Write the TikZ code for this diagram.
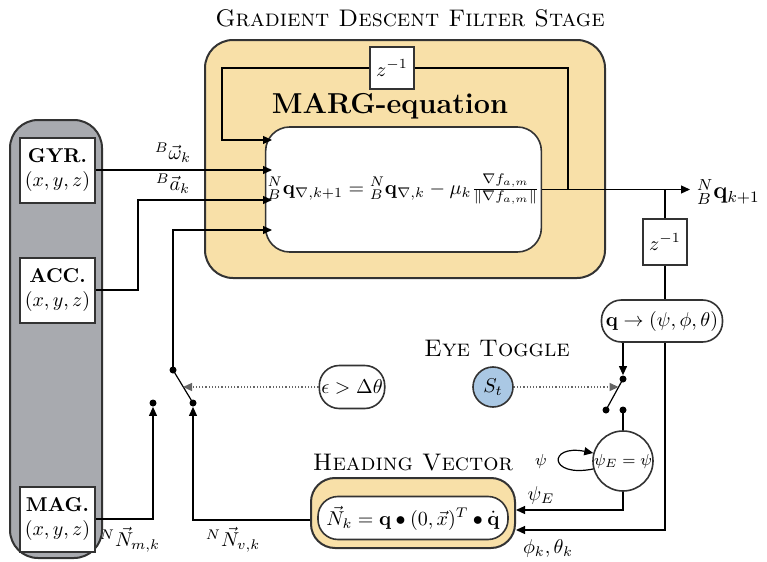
\documentclass[tikz,border=0pt]{standalone}
\usepackage{amsmath,amssymb}
\usetikzlibrary{arrows.meta, positioning, calc}

\definecolor{stagefill}{RGB}{248,224,168}
\definecolor{panelgray}{RGB}{168,170,175}
\definecolor{togglefill}{RGB}{170,200,228}

\begin{document}
\begin{tikzpicture}[
    x=0.5pt, y=-0.5pt,
    stage/.style={draw=black!80, line width=1pt, fill=stagefill, rounded corners=14pt},
    panel/.style={draw=black!80, line width=1pt, fill=panelgray, rounded corners=14pt},
    sensor/.style={draw=black!80, line width=1pt, fill=white, minimum width=37.5pt, minimum height=32.5pt, align=center, inner sep=1pt},
    delay/.style={draw=black!80, line width=0.8pt, fill=white, minimum width=22pt, minimum height=21pt, inner sep=1pt},
    pill/.style={draw=black!80, line width=0.8pt, fill=white, rounded corners=10pt, inner sep=1pt},
    arr/.style={-{Triangle[length=4.5pt,width=4pt]}, line width=0.6pt},
    wire/.style={line width=0.6pt},
    ctrl/.style={-{Triangle[length=4.5pt,width=4pt]}, densely dotted, line width=0.6pt, black!60},
    pin/.style={circle, fill, inner sep=0pt, minimum size=3.5pt},
    ttl/.style={font=\large\scshape}
]
\path[use as bounding box] (0,0) rectangle (767,562);

% ---- Sensors ----
\node[panel, minimum width=46pt, minimum height=219pt] (imu) at (56,339) {};
\node[sensor] (gyr) at (57.5,170) {\textbf{GYR.}\\$(x,y,z)$};
\node[sensor] (acc) at (57.5,290) {\textbf{ACC.}\\$(x,y,z)$};
\node[sensor] (mag) at (57.5,519) {\textbf{MAG.}\\$(x,y,z)$};

% ---- Gradient descent stage ----
\node[ttl] (gdtitle) at (410,18) {Gradient Descent Filter Stage};
\node[stage, minimum width=200pt, minimum height=119pt] (gd) at (405,159) {};
\node[delay] (zfb) at (392,68) {$z^{-1}$};
\node[font=\Large\bfseries] (margtitle) at (390,106) {MARG-equation};
\node[pill, rounded corners=12pt, minimum width=131.5pt, minimum height=62.5pt] (marg) at (403.5,189.5)
    {${}^N_B\mathbf{q}_{\nabla,k+1} = {}^N_B\mathbf{q}_{\nabla,k} - \mu_k\frac{\nabla f_{a,m}}{\|\nabla f_{a,m}\|}$};

\coordinate (in1) at (272,140);
\coordinate (in2) at (272,170);
\coordinate (in3) at (272,200);
\coordinate (in4) at (272,230);

% feedback
\coordinate (fbl) at (222,140);
\coordinate (fbr) at (568,189.5);
\draw[arr] (zfb.west) -| (fbl) -- (in1);
\draw[wire] (zfb.east) -| (fbr);

% output
\node[anchor=west, font=\large] (qout) at (690,192) {${}^N_B\mathbf{q}_{k+1}$};
\draw[arr] (marg.east) -- (marg.east -| qout.west);

\node[delay, minimum height=23pt] (zq) at (665,242) {$z^{-1}$};
\coordinate (br) at (665,189.5);
\draw[wire] (br) -- (zq.north);
\node[pill, minimum width=60.5pt, minimum height=21pt] (euler) at (662,321) {$\mathbf{q}\to(\psi,\phi,\theta)$};
\draw[wire] (zq.south) -- (zq.south |- euler.north);

% ---- Inputs ----
\draw[arr] (gyr.east) -- (in2);
\node (omlbl) at (173,153) {${}^B\vec{\omega}_k$};
\coordinate (accb) at (138,200);
\draw[arr] (acc.east) -| (accb) -- (in3);
\node (albl) at (173,184) {${}^B\vec{a}_k$};

% ---- Eye toggle ----
\node[ttl] (eyetitle) at (497,349) {Eye Toggle};
\node[circle, draw=black!80, line width=0.8pt, fill=togglefill, minimum size=20pt, inner sep=0pt] (st) at (493,387) {$S_t$};
\node[pin] (epiv) at (623,379) {};
\node[pin] (eoff) at (606,410) {};
\node[pin] (eon) at (623,410) {};
\draw[wire] (epiv.center) -- (eoff.center);
\draw[arr] (euler.south -| epiv) -- (epiv.north);
\coordinate (eblade) at ($(epiv.center)!0.26!(eoff.center)$);
\draw[ctrl] (st.east) -- (st.east -| eblade);

\node[circle, draw=black!80, line width=0.8pt, fill=white, minimum size=30pt, inner sep=0pt, font=\footnotesize] (hold) at (623,461) {$\psi_E=\psi$};
\draw[wire] (eon.center) -- (hold.north);
\node[font=\footnotesize] (psi) at (541,461) {$\psi$};
\draw[arr] (hold.195) .. controls (548,478) and (548,444) .. (hold.165);

% ---- Heading vector ----
\node[ttl] (hvtitle) at (413,463) {Heading Vector};
\node[stage, rounded corners=12pt, minimum width=102pt, minimum height=35pt] (hv) at (413,513) {};
\node[pill, minimum width=95pt, minimum height=21.5pt, inner sep=0.5pt] (heq) at (413,518) {$\vec{N}_k = \mathbf{q}\bullet(0,\vec{x})^T\bullet\dot{\mathbf{q}}$};

\coordinate (psieb) at (623,510);
\draw[arr] (hold.south) -- (psieb) -- (psieb -| hv.east);
\node (psielbl) at (541,495) {$\psi_E$};
\coordinate (angb) at (665,530);
\draw[arr] (euler.south -| angb) -- (angb) -- (angb -| hv.east);
\node (anglbl) at (548,548) {$\phi_k,\theta_k$};

% ---- Magnetometer switch ----
\node[pin] (lpiv) at (173,370) {};
\node[pin] (lmag) at (153,403) {};
\node[pin] (lvec) at (193,403) {};
\draw[wire] (lpiv.center) -- (lvec.center);
\draw[arr] (lpiv.center) |- (in4);
\node[pill, minimum width=32.5pt, minimum height=21.5pt] (thr) at (352,387) {$\epsilon>\Delta\theta$};
\coordinate (lblade) at ($(lpiv.center)!0.5!(lvec.center)$);
\draw[ctrl] (thr.west) -- (thr.west -| lblade);

\coordinate (vecb) at (193,520);
\draw[arr] (hv.west |- vecb) -- (vecb) -- (lvec.south);
\node (veclbl) at (233,540) {${}^N\vec{N}_{v,k}$};
\draw[arr] (mag.east) -| (lmag.south);
\node (maglbl) at (130,540) {${}^N\vec{N}_{m,k}$};

\end{tikzpicture}
\end{document}
